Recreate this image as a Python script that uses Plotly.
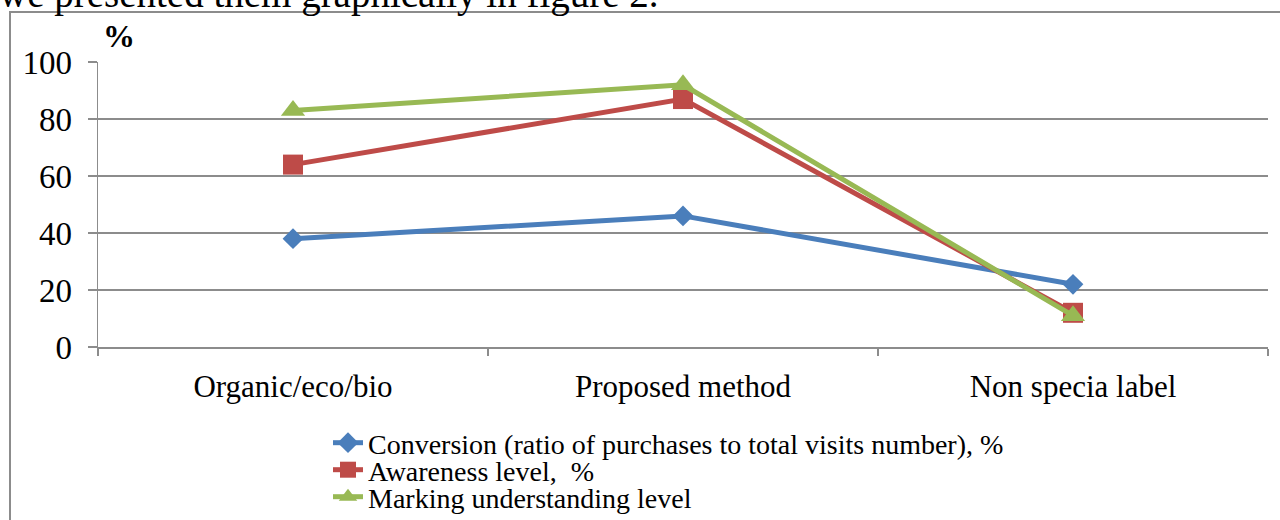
import plotly.graph_objects as go

categories = ["Organic/eco/bio", "Proposed method", "Non specia label"]
conversion = [38, 46, 22]
awareness = [64, 87, 12]
marking = [83, 92, 11]
y_ticks = [0, 20, 40, 60, 80, 100]

W, H = 1280, 520
L, R, T, B = 98, 12, 62, 173
pw = W - L - R
ph = H - T - B

def px(x):
    return (x - L) / pw

def py(y):
    return (H - B - y) / ph

def cx(x):
    return x / W

def cy(y):
    return 1 - y / H

serif = "Liberation Serif, Times New Roman, serif"
grid = "#8c8c8c"

fig = go.Figure()
fig.add_trace(go.Scatter(x=categories, y=conversion, mode="lines+markers",
                         name="Conversion (ratio of purchases to total visits number), %",
                         legend="legend",
                         line=dict(color="#4a7ebb", width=5),
                         marker=dict(symbol="diamond", size=16, color="#4a7ebb")))
fig.add_trace(go.Scatter(x=categories, y=awareness, mode="lines+markers",
                         name="Awareness level,  %",
                         legend="legend2",
                         line=dict(color="#be4b48", width=5),
                         marker=dict(symbol="square", size=20, color="#be4b48")))
fig.add_trace(go.Scatter(x=categories, y=marking, mode="lines+markers",
                         name="Marking understanding level",
                         legend="legend3",
                         line=dict(color="#98b954", width=5),
                         marker=dict(symbol="triangle-up", size=21, color="#98b954")))

leg_font = dict(family=serif, size=28, color="black")
def leg(top):
    return dict(xref="container", yref="container", x=cx(328), y=cy(top),
                xanchor="left", yanchor="top", font=leg_font,
                bgcolor="rgba(0,0,0,0)", borderwidth=0)

fig.update_layout(
    width=W, height=H,
    margin=dict(l=L, r=R, t=T, b=B, autoexpand=False),
    paper_bgcolor="white", plot_bgcolor="white",
    font=dict(family=serif, color="black"),
    showlegend=True,
    legend=leg(418), legend2=leg(445), legend3=leg(472),
    xaxis=dict(type="category", range=[-0.5, 2.5], showgrid=False, automargin=False,
               showline=True, linecolor=grid, linewidth=1.5,
               ticks="outside", tickson="boundaries", ticklen=7, tickcolor=grid, tickwidth=1.5,
               tickfont=dict(family=serif, size=31, color="black"),
               ticklabelstandoff=11, fixedrange=True),
    yaxis=dict(range=[0, 100], tickvals=y_ticks, showgrid=True, gridcolor=grid, gridwidth=1.5,
               showline=True, linecolor=grid, linewidth=1.5, automargin=False,
               ticks="outside", ticklen=9, tickcolor=grid, tickwidth=1.5,
               tickfont=dict(family=serif, size=33, color="black"),
               ticklabelstandoff=9, zeroline=False, fixedrange=True),
    shapes=[dict(type="rect", xref="paper", yref="paper",
                 x0=px(10), x1=px(1290), y0=py(530), y1=py(12),
                 line=dict(color="#8c8c8c", width=2), fillcolor="rgba(0,0,0,0)", layer="below")],
    annotations=[
        dict(text="<b>%</b>", xref="paper", yref="paper", x=px(101), y=py(36),
             xanchor="left", yanchor="middle", showarrow=False,
             font=dict(family=serif, size=32, color="black")),
        dict(text="we presented them graphically in figure 2.", xref="paper", yref="paper",
             x=px(-3), y=py(18), xanchor="left", yanchor="bottom", showarrow=False,
             font=dict(family=serif, size=39, color="black")),
    ],
)

fig.write_html("out.html",
               config={"displayModeBar": False, "staticPlot": True},
               post_script="document.body.style.margin='0';document.body.style.overflow='hidden';")
